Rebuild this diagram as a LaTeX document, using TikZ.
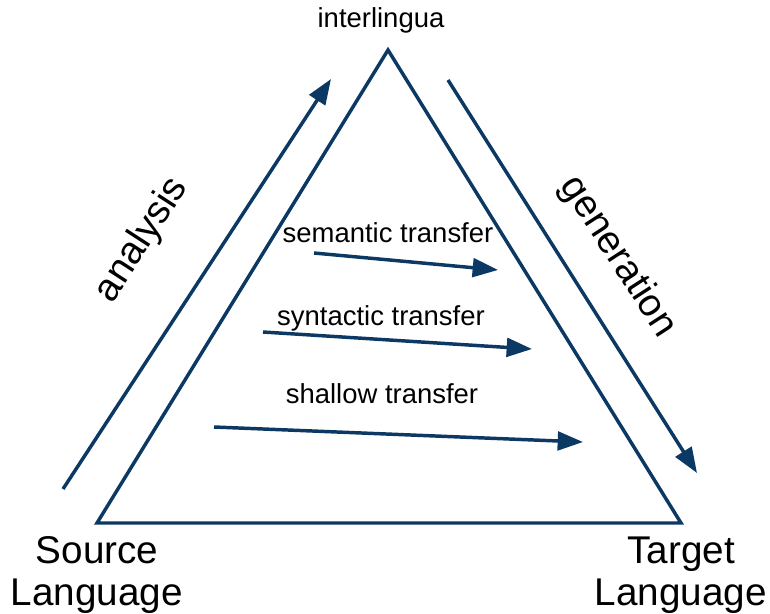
\documentclass[tikz,border=0pt]{standalone}
\usepackage{fontspec}
\setmainfont{Liberation Sans}
\usepackage{xcolor}
\definecolor{mtblue}{RGB}{12,56,100}
\usetikzlibrary{arrows.meta, positioning}

\tikzset{
  edge/.style={draw=mtblue, line width=2.6bp},
  flow/.style={edge, -{Triangle[length=19bp,width=14bp]}},
  smalltxt/.style={font=\fontsize{20.6bp}{24bp}\selectfont, inner sep=0pt},
  bigtxt/.style={font=\fontsize{29bp}{31.5bp}\selectfont, inner sep=0pt, align=center}
}

\begin{document}
\begin{tikzpicture}[x=0.75bp, y=-0.75bp]
      \useasboundingbox (0,0) rectangle (770,614);
      % Triangle corners
      \coordinate (top) at (388,50);
      \coordinate (src) at (97,523);
      \coordinate (tgt) at (681,523);
      \draw[edge, line join=miter] (top) -- (src) -- (tgt) -- cycle;
      % Corner labels
      \node[smalltxt, anchor=base] (inter) at (381,27) {interlingua};
      \node[bigtxt] (srclang) at (97,575) {Source\\Language};
      \node[bigtxt] (tgtlang) at (681,575) {Target\\Language};
      % Analysis arrow
      \coordinate (ana-s) at (63,489);
      \coordinate (ana-e) at (331,79);
      \draw[flow] (ana-s) -- (ana-e);
      \node[bigtxt, rotate=57] (analysis) at (142,240) {analysis};
      % Generation arrow
      \coordinate (gen-s) at (448,80);
      \coordinate (gen-e) at (697,473);
      \draw[flow] (gen-s) -- (gen-e);
      \node[bigtxt, rotate=-57] (generation) at (618,257) {generation};
      % Transfer arrows
      \coordinate (sem-s) at (314,253);
      \coordinate (sem-e) at (498,270);
      \draw[flow] (sem-s) -- (sem-e);
      \node[smalltxt, anchor=base] (semantic) at (388,242) {semantic transfer};
      \coordinate (syn-s) at (263,332);
      \coordinate (syn-e) at (532,349);
      \draw[flow] (syn-s) -- (syn-e);
      \node[smalltxt, anchor=base] (syntactic) at (381,325) {syntactic transfer};
      \coordinate (sha-s) at (214,427);
      \coordinate (sha-e) at (583,442);
      \draw[flow] (sha-s) -- (sha-e);
      \node[smalltxt, anchor=base] (shallow) at (382,403) {shallow transfer};
\end{tikzpicture}
\end{document}
